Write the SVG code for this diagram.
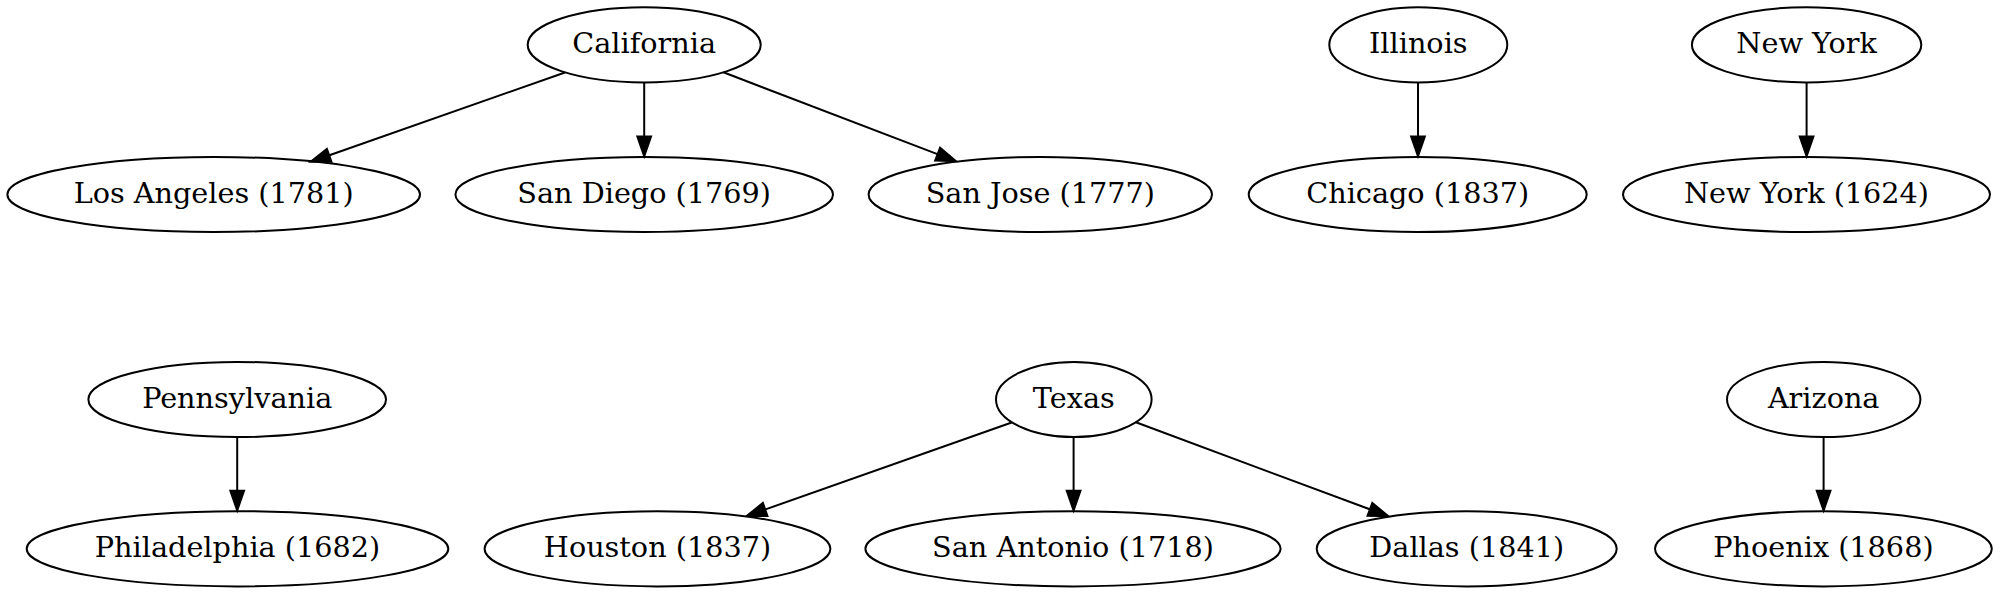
<svg xmlns="http://www.w3.org/2000/svg" width="2001" height="595" viewBox="0 0 2001 595">
<style>
.n ellipse{fill:none;stroke:#000;stroke-width:2}
.n text{font-family:"DejaVu Serif","Liberation Serif",serif;font-size:28.7px;text-anchor:middle;fill:#000}
.e line{stroke:#000;stroke-width:2;marker-end:url(#ah)}
</style>
<defs>
<marker id="ah" markerUnits="userSpaceOnUse" markerWidth="24" markerHeight="18" refX="0" refY="7.2" orient="auto" overflow="visible">
<path d="M0,0 L20.6,7.2 L0,14.4 z" fill="#000" stroke="#000" stroke-width="1.5"/>
</marker>
</defs>
<rect width="2001" height="595" fill="#fff"/>
<g id="edges" class="e">
<line x1="565" y1="72.5" x2="329.4" y2="155.2"/>
<line x1="644.2" y1="82.4" x2="644.2" y2="136.3"/>
<line x1="723.4" y1="72.3" x2="937.4" y2="154.1"/>
<line x1="1418" y1="82.4" x2="1418" y2="136.3"/>
<line x1="1806.6" y1="82.4" x2="1806.6" y2="136.3"/>
<line x1="237.2" y1="437.1" x2="237.2" y2="490.6"/>
<line x1="1011.7" y1="422.5" x2="765.4" y2="509.4"/>
<line x1="1073.6" y1="437.1" x2="1073.6" y2="490.6"/>
<line x1="1135.9" y1="422.3" x2="1369.7" y2="509.3"/>
<line x1="1823.6" y1="437.1" x2="1823.6" y2="490.6"/>
</g>
<g id="california" class="n"><ellipse cx="644.2" cy="44.8" rx="116.5" ry="37.6"/><text x="644.2" y="53.4">California</text></g>
<g id="losangeles" class="n"><ellipse cx="213.7" cy="194.5" rx="206.3" ry="37.6"/><text x="213.7" y="203.1">Los Angeles (1781)</text></g>
<g id="sandiego" class="n"><ellipse cx="644.2" cy="194.5" rx="188.8" ry="37.6"/><text x="644.2" y="203.1">San Diego (1769)</text></g>
<g id="sanjose" class="n"><ellipse cx="1040.3" cy="194.5" rx="171.7" ry="37.6"/><text x="1040.3" y="203.1">San Jose (1777)</text></g>
<g id="illinois" class="n"><ellipse cx="1418.3" cy="44.8" rx="89" ry="37.6"/><text x="1418.3" y="53.4">Illinois</text></g>
<g id="chicago" class="n"><ellipse cx="1417.7" cy="194.5" rx="169" ry="37.6"/><text x="1417.7" y="203.1">Chicago (1837)</text></g>
<g id="newyorkstate" class="n"><ellipse cx="1806.6" cy="44.8" rx="114.7" ry="37.6"/><text x="1806.6" y="53.4">New York</text></g>
<g id="newyorkcity" class="n"><ellipse cx="1806.5" cy="194.5" rx="183.5" ry="37.6"/><text x="1806.5" y="203.1">New York (1624)</text></g>
<g id="pennsylvania" class="n"><ellipse cx="237.2" cy="399.5" rx="148.8" ry="37.6"/><text x="237.2" y="408.1">Pennsylvania</text></g>
<g id="philadelphia" class="n"><ellipse cx="237.5" cy="548.8" rx="210.8" ry="37.6"/><text x="237.5" y="557.4">Philadelphia (1682)</text></g>
<g id="texas" class="n"><ellipse cx="1073.8" cy="399.5" rx="77.8" ry="37.6"/><text x="1073.8" y="408.1">Texas</text></g>
<g id="houston" class="n"><ellipse cx="657.5" cy="548.8" rx="172.9" ry="37.6"/><text x="657.5" y="557.4">Houston (1837)</text></g>
<g id="sanantonio" class="n"><ellipse cx="1073" cy="548.8" rx="207.6" ry="37.6"/><text x="1073" y="557.4">San Antonio (1718)</text></g>
<g id="dallas" class="n"><ellipse cx="1466.7" cy="548.8" rx="150" ry="37.6"/><text x="1466.7" y="557.4">Dallas (1841)</text></g>
<g id="arizona" class="n"><ellipse cx="1823.7" cy="399.5" rx="96.7" ry="37.6"/><text x="1823.7" y="408.1">Arizona</text></g>
<g id="phoenix" class="n"><ellipse cx="1823.4" cy="548.8" rx="168.4" ry="37.6"/><text x="1823.4" y="557.4">Phoenix (1868)</text></g>
</svg>
